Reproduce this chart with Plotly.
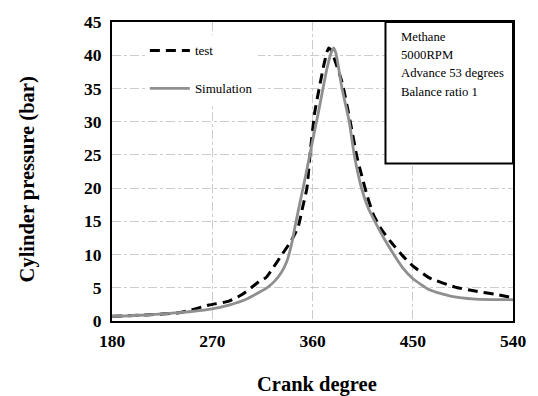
import plotly.graph_objects as go

# Simulation curve (crank degree, bar)
sim_deg = [180, 210, 240, 267, 285, 302, 320, 326, 332, 337, 341, 345, 350, 354, 358.5, 366, 373, 377, 379,
           381, 386.5, 393, 397.5, 404, 410, 416, 423.6, 433, 441, 450, 465, 485, 506, 540]
sim_p = [0.7, 0.9, 1.25, 1.75, 2.4, 3.4, 5.1, 6.0, 7.3, 9.0, 11.4, 14.8, 18.8, 22, 25.8, 32, 38, 40.5, 41.1,
         40.3, 35, 30, 25, 20, 17, 15, 12.6, 10, 8.0, 6.4, 4.7, 3.7, 3.3, 3.2]

# Test curve
test_deg = [180, 210, 240, 250, 267, 285, 296, 305, 314, 318, 323, 333, 341, 347, 351, 355, 358, 362, 366,
            370, 373, 374.5, 376.5, 380, 386.6, 393.9, 399.9, 404.3, 408.8, 414.7, 420.6, 429.4, 441,
            450, 465, 488, 506, 525, 540]
test_p = [0.7, 0.9, 1.25, 1.6, 2.4, 3.0, 3.9, 5.0, 6.2, 6.5, 7.6, 10.1, 12.1, 14.1, 17, 20, 25.5, 31.4, 35,
          38.4, 40.5, 41.1, 40.8, 39.3, 35.9, 30, 24.7, 21.8, 19, 16, 14.1, 12.1, 9.8,
          8.3, 6.5, 5.1, 4.5, 4.0, 3.5]

x_ticks = [180, 270, 360, 450, 540]
y_ticks = [0, 5, 10, 15, 20, 25, 30, 35, 40, 45]
info_lines = ["Methane", "5000RPM", "Advance 53 degrees", "Balance ratio 1"]

SERIF = "Liberation Serif, Times New Roman, serif"

fig = go.Figure()
fig.add_trace(go.Scatter(x=test_deg, y=test_p, mode="lines", name="test", legendgroup="a",
                         line=dict(color="black", width=3, dash="10px,6px", shape="spline",
                                   smoothing=0.5)))
fig.add_trace(go.Scatter(x=sim_deg, y=sim_p, mode="lines", name="Simulation", legendgroup="b",
                         line=dict(color="#8f8f8f", width=2.8, shape="spline", smoothing=0.6)))

grid = dict(showgrid=True, gridcolor="#cccccc", gridwidth=1, griddash="dashdot")
fig.update_xaxes(range=[180, 540], tickvals=x_ticks, ticks="", showline=True, linecolor="black",
                 linewidth=2, mirror=True, zeroline=False, ticklabelstandoff=3,
                 tickfont=dict(family=SERIF, size=17.5, color="black", weight="bold"), **grid)
fig.update_yaxes(range=[0, 45], tickvals=y_ticks, ticks="", showline=True, linecolor="black",
                 linewidth=2, mirror=True, zeroline=False, ticklabelstandoff=5,
                 tickfont=dict(family=SERIF, size=17.5, color="black", weight="bold"), **grid)

fig.add_shape(type="rect", xref="paper", yref="paper", x0=0.682, x1=1.0, y0=0.527, y1=1.0,
              line=dict(color="black", width=2), fillcolor="white", layer="above")
for i, t in enumerate(info_lines):
    fig.add_annotation(xref="paper", yref="paper", x=0.716, y=0.951 - i * 0.0615, text=t,
                       showarrow=False, xanchor="left", yanchor="middle",
                       font=dict(family=SERIF, size=12.7, color="black"))

fig.add_annotation(xref="paper", yref="paper", x=0.512, y=-0.212, text="Crank degree", showarrow=False,
                   xanchor="center", yanchor="middle",
                   font=dict(family=SERIF, size=20.5, color="black", weight="bold"))
fig.add_annotation(xref="paper", yref="paper", x=-0.212, y=0.4735, text="Cylinder pressure (bar)",
                   showarrow=False, textangle=-90, xanchor="center", yanchor="middle",
                   font=dict(family=SERIF, size=20.5, color="black", weight="bold"))

fig.update_layout(
    width=538, height=396,
    margin=dict(l=112, r=20, t=19, b=75),
    paper_bgcolor="white", plot_bgcolor="white",
    showlegend=True,
    legend=dict(x=0.082, y=0.955, xanchor="left", yanchor="top", bgcolor="white",
                font=dict(family=SERIF, size=13, color="black"), tracegroupgap=18,
                itemwidth=40),
)

fig.write_html("out.html")
